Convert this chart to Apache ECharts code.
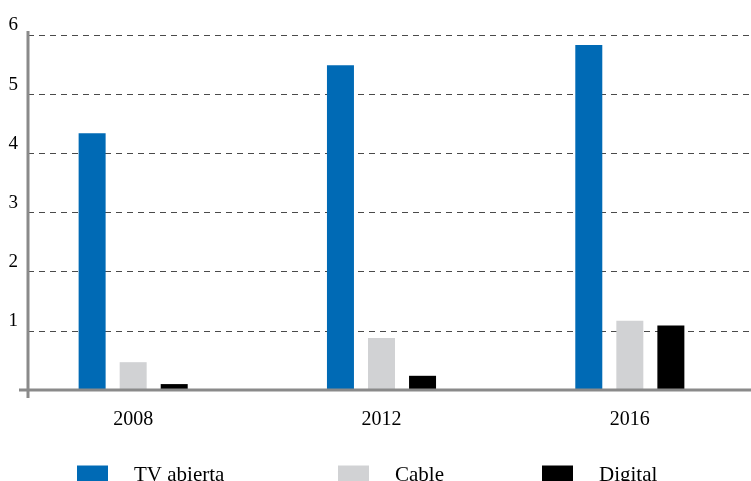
<!DOCTYPE html>
<html>
<head>
<meta charset="utf-8">
<script src="https://cdn.jsdelivr.net/npm/echarts@6/dist/echarts.min.js"></script>
<style>
  html, body { margin: 0; padding: 0; background: #fff; }
  #chart { width: 751px; height: 481px; }
</style>
</head>
<body>
<div id="chart"></div>
<script>
const years = ['2008', '2012', '2016']
const tvAbierta = [4.34, 5.49, 5.83]
const cable = [0.47, 0.88, 1.17]
const digital = [0.10, 0.24, 1.09]
const yTicks = [0, 1, 2, 3, 4, 5, 6]

const colors = { tv: '#006AB5', cable: '#D1D2D4', digital: '#000000' }
const axisGray = '#8a8a8a'
const font = '"Liberation Serif", "DejaVu Serif", serif'

const chart = echarts.init(document.getElementById('chart'))

const legendItem = (name, left) => ({
  left: left,
  top: 465,
  padding: 0,
  itemWidth: 31,
  itemHeight: 20,
  icon: 'rect',
  data: [name],
  textStyle: { fontFamily: font, fontSize: 21, color: '#000', padding: [-7, 0, 0, 21] }
})

const barSeries = (name, data, color) => ({
  name: name,
  type: 'bar',
  xAxisIndex: 1,
  yAxisIndex: 1,
  barWidth: 27,
  barGap: '52%',
  itemStyle: { color: color },
  data: data
})

const option = {
  animation: false,
  backgroundColor: '#fff',
  grid: [
    // grid 0: value axis, labels and dashed grid lines
    { left: 28, right: 0, top: 35, bottom: 91, outerBoundsMode: 'none' },
    // grid 1: bars and category labels (slightly wider than the axis area)
    { left: 9, right: -3, top: 35, bottom: 91, outerBoundsMode: 'none' }
  ],
  legend: [
    legendItem('TV abierta', 77),
    legendItem('Cable', 338),
    legendItem('Digital', 542)
  ],
  xAxis: [
    { type: 'value', gridIndex: 0, min: 0, max: 1, show: false },
    {
      type: 'category',
      gridIndex: 1,
      data: years,
      axisLine: { show: false },
      axisTick: { show: false },
      axisLabel: { fontFamily: font, fontSize: 20, color: '#000', margin: 20 }
    }
  ],
  yAxis: [
    {
      type: 'value',
      gridIndex: 0,
      min: yTicks[0],
      max: yTicks[yTicks.length - 1],
      interval: 1,
      axisLine: { show: false },
      axisTick: { show: false },
      axisLabel: {
        fontFamily: font,
        fontSize: 19,
        color: '#000',
        margin: 10,
        verticalAlign: 'bottom',
        formatter: v => (v === 0 ? '' : String(v))
      },
      splitLine: { lineStyle: { color: '#4a4a4a', width: 1, type: [6, 5] } }
    },
    {
      type: 'value',
      gridIndex: 1,
      min: yTicks[0],
      max: yTicks[yTicks.length - 1],
      show: false
    }
  ],
  series: [
    barSeries('TV abierta', tvAbierta, colors.tv),
    barSeries('Cable', cable, colors.cable),
    barSeries('Digital', digital, colors.digital)
  ]
}

chart.setOption(option)

// axis lines: derived from grid 0 so they follow the scale
const origin = chart.convertToPixel({ gridIndex: 0 }, [0, 0])
const axisTop = chart.convertToPixel({ gridIndex: 0 }, [0, yTicks[yTicks.length - 1]])
chart.setOption({
  graphic: [
    {
      type: 'line',
      shape: { x1: origin[0], y1: axisTop[1] - 4, x2: origin[0], y2: origin[1] + 8 },
      style: { stroke: axisGray, lineWidth: 3 },
      z: 10
    },
    {
      type: 'line',
      shape: { x1: origin[0] - 9, y1: origin[1], x2: 751, y2: origin[1] },
      style: { stroke: axisGray, lineWidth: 3 },
      z: 10
    }
  ]
})
</script>
</body>
</html>
